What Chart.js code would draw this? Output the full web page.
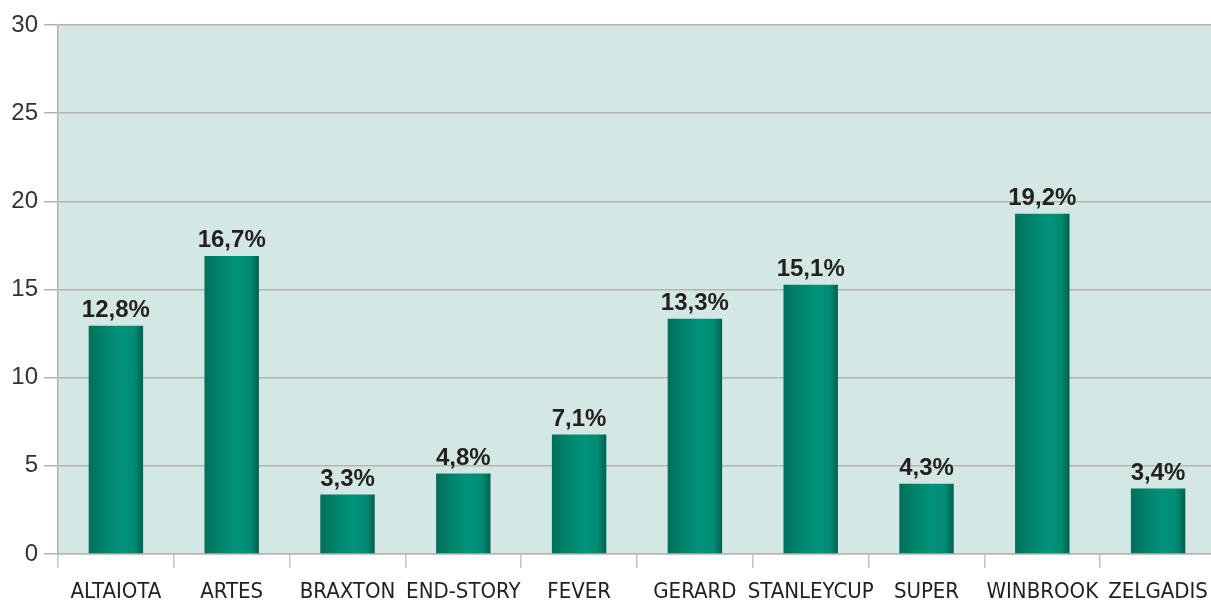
<!DOCTYPE html>
<html>
<head>
<meta charset="utf-8">
<script src="https://cdn.jsdelivr.net/npm/chart.js@4"></script>
<style>
  html, body { margin: 0; padding: 0; background: #fff; overflow: hidden; }
  #wrap { width: 1211px; height: 601px; overflow: hidden; }
  #box { width: 1216px; height: 601px; }
</style>
</head>
<body>
<div id="wrap"><div id="box"><canvas id="chart-bar"></canvas></div></div>
<script>
const categories = ["ALTAIOTA", "ARTES", "BRAXTON", "END-STORY", "FEVER", "GERARD", "STANLEYCUP", "SUPER", "WINBROOK", "ZELGADIS"];
const values = [12.95, 16.9, 3.37, 4.56, 6.77, 13.34, 15.27, 3.99, 19.29, 3.71];
const valueLabels = ["12,8%", "16,7%", "3,3%", "4,8%", "7,1%", "13,3%", "15,1%", "4,3%", "19,2%", "3,4%"];
const yTicks = [0, 5, 10, 15, 20, 25, 30];

const barPct = 0.47;

function barGradient(context) {
  const chart = context.chart;
  const xs = chart.scales.x;
  if (!xs || !chart.chartArea) return "#008a74";
  const cx = xs.getPixelForValue(context.dataIndex);
  const w = (xs.width / categories.length) * barPct;
  const g = chart.ctx.createLinearGradient(cx - w / 2, 0, cx + w / 2, 0);
  g.addColorStop(0, "#006e5a");
  g.addColorStop(0.25, "#008169");
  g.addColorStop(0.6, "#00937c");
  g.addColorStop(0.85, "#008a73");
  g.addColorStop(1, "#005f4d");
  return g;
}

const plotBackground = {
  id: "plotBackground",
  beforeDraw(chart) {
    const { ctx, chartArea } = chart;
    ctx.save();
    ctx.fillStyle = "#d3e8e5";
    ctx.fillRect(chartArea.left, chartArea.top, chartArea.right - chartArea.left, chartArea.bottom - chartArea.top);
    ctx.restore();
  }
};

const valueText = {
  id: "valueText",
  afterDatasetsDraw(chart) {
    const { ctx } = chart;
    const meta = chart.getDatasetMeta(0);
    ctx.save();
    ctx.font = "bold 24px 'Liberation Sans', Arial, sans-serif";
    ctx.fillStyle = "#231f20";
    ctx.textAlign = "center";
    ctx.textBaseline = "alphabetic";
    meta.data.forEach((bar, i) => {
      ctx.fillText(valueLabels[i], bar.x, bar.y - 9);
    });
    ctx.restore();
  }
};

new Chart(document.getElementById("chart-bar"), {
  type: "bar",
  data: {
    labels: categories,
    datasets: [
      {
        data: values,
        backgroundColor: barGradient,
        barPercentage: barPct,
        categoryPercentage: 1,
        borderWidth: 0
      }
    ]
  },
  options: {
    responsive: true,
    maintainAspectRatio: false,
    animation: false,
    layout: { padding: { top: 25, right: 0, bottom: 0, left: 0 } },
    plugins: {
      legend: { display: false },
      tooltip: { enabled: false }
    },
    scales: {
      y: {
        min: 0,
        max: 30,
        afterBuildTicks(scale) {
          scale.ticks = yTicks.map(v => ({ value: v }));
        },
        afterFit(scale) { scale.width = 58; },
        grid: {
          color: "#b4b4b4",
          lineWidth: 1.5,
          tickLength: 14,
          tickColor: "#b4b4b4"
        },
        border: { color: "#b4b4b4", width: 1.5 },
        ticks: {
          padding: 6,
          color: "#333333",
          font: { family: "'Liberation Sans', Arial, sans-serif", size: 24 }
        }
      },
      x: {
        afterFit(scale) {
          scale.height = 47;
          scale.paddingLeft = 0;
          scale.paddingRight = 0;
        },
        grid: {
          drawOnChartArea: false,
          offset: true,
          tickLength: 14,
          color: "#c4c4c4",
          lineWidth: 1.5
        },
        border: { color: "#b4b4b4", width: 1.5 },
        ticks: {
          padding: 11,
          maxRotation: 0,
          autoSkip: false,
          color: "#231f20",
          font: { family: "'Liberation Sans Narrow', 'DejaVu Sans Condensed', 'Liberation Sans', sans-serif", size: 22 }
        }
      }
    }
  },
  plugins: [plotBackground, valueText]
});
</script>
</body>
</html>
